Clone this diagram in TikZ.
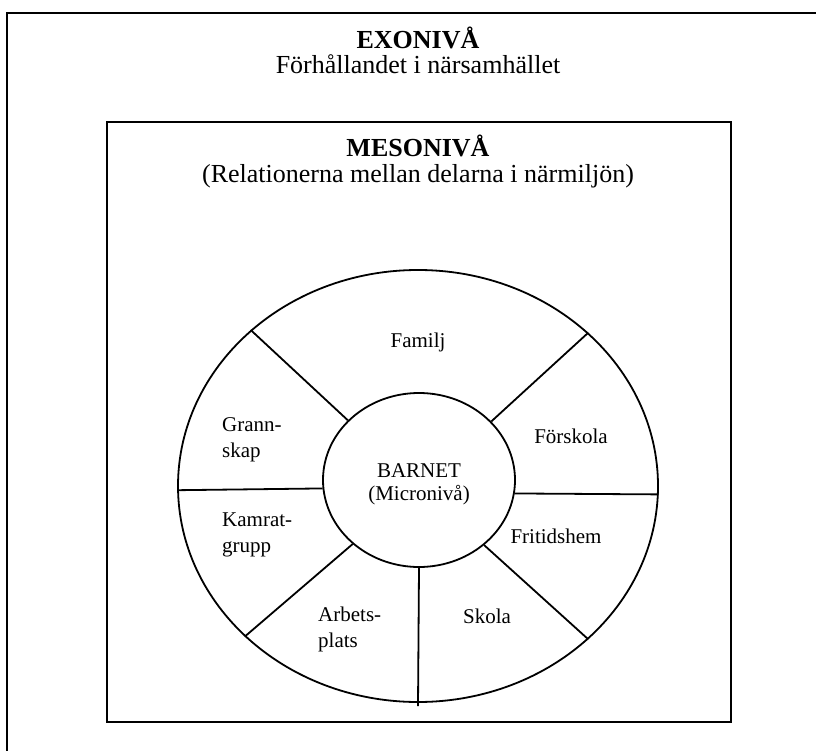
\documentclass[tikz,border=0pt]{standalone}
\usepackage{fontspec}
\setmainfont{Liberation Serif}
\usepackage{tikz}
\usetikzlibrary{shapes.geometric}
\tikzset{%
    rubrik/.style={font=\fontsize{26}{27}\selectfont, anchor=base, inner sep=0pt},
    etikett/.style={font=\fontsize{21}{26}\selectfont, anchor=base, inner sep=0pt},
    flerrad/.style={etikett, anchor=base west, align=left},
    ring/.style={ellipse, draw, line width=1.8pt, inner sep=0pt},
    delning/.style={line width=1.8pt}
}

\begin{document}
\begin{tikzpicture}[x=1pt,y=-1pt]
\useasboundingbox (0,0) rectangle (816,751);
\clip (0,0) rectangle (816,751);

% ramar
\draw[line width=2.8pt] (7,13) rectangle (840,780);
\draw[line width=2.4pt] (107,122) rectangle (731,722);

\node[rubrik] (exo) at (418,49) {\textbf{EXONIVÅ}};
\node[rubrik] (exotxt) at (418,74) {Förhållandet i närsamhället};
\node[rubrik] (meso) at (418,157) {\textbf{MESONIVÅ}};
\node[rubrik] (mesotxt) at (418,183) {(Relationerna mellan delarna i närmiljön)};

% cirklarna
\node[ring, minimum width=480pt, minimum height=432pt] (yttre) at (418,486) {};
\node[ring, minimum width=192pt, minimum height=174pt] (barn) at (419,480) {};
\coordinate (botten) at (418,706);

\draw[delning] (yttre.137.8) -- (barn.140.7);
\draw[delning] (yttre.42) -- (barn.39.3);
\draw[delning] (yttre.181.9) -- (barn.185.4);
\draw[delning] (barn.-8.9) -- (yttre.-2.1);
\draw[delning] (barn.south) -- (botten);
\draw[delning] (barn.224.6) -- (yttre.221.9);
\draw[delning] (barn.315.4) -- (yttre.318.4);

\node[etikett] (barnet) at (419,477) {BARNET};
\node[etikett] (micro) at (419,500) {(Micronivå)};

\node[etikett] (familj) at (418,347) {Familj};
\node[etikett] (forskola) at (571,443) {Förskola};
\node[etikett] (fritids) at (556,543) {Fritidshem};
\node[etikett] (skola) at (487,623) {Skola};
% flerradiga: baslinjen gäller sista raden
\node[flerrad] (grann) at (222,457) {Grann-\\skap};
\node[flerrad] (kamrat) at (222,552) {Kamrat-\\grupp};
\node[flerrad] (arbete) at (318,647) {Arbets-\\plats};
\end{tikzpicture}
\end{document}
